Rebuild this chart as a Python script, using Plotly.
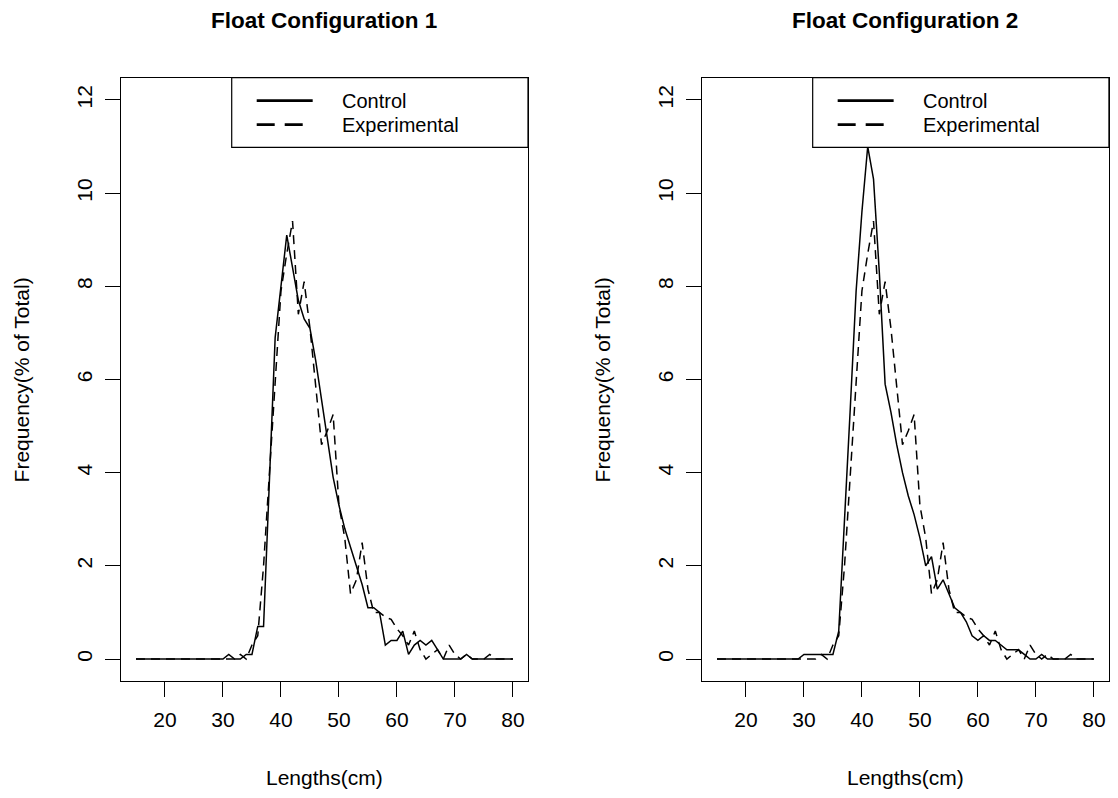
import plotly.graph_objects as go

lengths = list(range(15, 81))

# Float configuration 1 - control (solid)
control_1 = [0]*16 + [
    0.1, 0, 0, 0.1, 0.1, 0.7, 0.7, 3.7, 6.9, 8.0,      # 31-40
    9.1, 8.4, 7.7, 7.3, 7.1, 6.4, 5.6, 4.7, 3.9, 3.3,  # 41-50
    2.8, 2.4, 2.0, 1.6, 1.1, 1.1, 1.0, 0.3, 0.4, 0.4,  # 51-60
    0.6, 0.1, 0.3, 0.4, 0.3, 0.4, 0.2, 0, 0, 0,        # 61-70
    0, 0.1, 0, 0, 0, 0, 0, 0, 0, 0                     # 71-80
]

# Float configuration 2 - control (solid)
control_2 = [0]*15 + [
    0.1,                                               # 30
    0.1, 0.1, 0.1, 0.1, 0.1, 0.6, 2.9, 5.4, 7.9, 9.6,  # 31-40
    11.0, 10.3, 8.3, 5.9, 5.3, 4.6, 4.0, 3.5, 3.1, 2.6, # 41-50
    2.0, 2.2, 1.5, 1.7, 1.4, 1.1, 1.0, 0.8, 0.5, 0.4,  # 51-60
    0.5, 0.4, 0.4, 0.3, 0.2, 0.2, 0.2, 0.1, 0, 0,      # 61-70
    0.1, 0, 0, 0, 0, 0, 0, 0, 0, 0                     # 71-80
]

# Experimental (dashed), same in both panels
experimental = [0]*16 + [
    0, 0, 0.1, 0, 0.3, 0.5, 2.0, 4.0, 6.0, 7.9,        # 31-40
    8.7, 9.4, 7.4, 8.1, 7.1, 5.9, 4.6, 4.9, 5.25, 3.3, # 41-50
    2.6, 1.4, 1.7, 2.5, 1.5, 1.0, 1.0, 0.9, 0.85, 0.65, # 51-60
    0.5, 0.3, 0.6, 0.2, 0, 0.1, 0.2, 0, 0.3, 0.1,      # 61-70
    0, 0.1, 0, 0, 0, 0.1, 0, 0, 0, 0                   # 71-80
]

panel_titles = ["Float Configuration 1", "Float Configuration 2"]
legend_labels = ["Control", "Experimental"]
x_ticks = [20, 30, 40, 50, 60, 70, 80]
y_ticks = [0, 2, 4, 6, 8, 10, 12]
x_title = "Lengths(cm)"
y_title = "Frequency(% of Total)"

FONT = "Liberation Sans, Arial, Helvetica, sans-serif"
W, H = 1118, 798
FS = 21

x_domains = [[0.10814, 0.47227], [0.6278, 0.9919]]
y_domain = [0.14612, 0.90276]

fig = go.Figure()
controls = [control_1, control_2]
for i in range(2):
    xa = "x" if i == 0 else "x2"
    ya = "y" if i == 0 else "y2"
    fig.add_trace(go.Scatter(x=lengths, y=controls[i], mode="lines",
                             line=dict(color="black", width=1.5),
                             name=legend_labels[0], xaxis=xa, yaxis=ya,
                             showlegend=False))
    fig.add_trace(go.Scatter(x=lengths, y=experimental, mode="lines",
                             line=dict(color="black", width=1.5, dash="9px,6px"),
                             name=legend_labels[1], xaxis=xa, yaxis=ya,
                             showlegend=False))

axis_common = dict(showline=True, mirror=True, linecolor="black", linewidth=1.2,
                   ticks="outside", ticklen=15, tickwidth=1.2, tickcolor="black",
                   showgrid=False, zeroline=False,
                   tickfont=dict(family=FONT, size=FS, color="black"))

layout = dict(width=W, height=H, margin=dict(l=0, r=0, t=0, b=0),
              paper_bgcolor="white", plot_bgcolor="white", showlegend=False)

for i in range(2):
    xk = "xaxis" if i == 0 else "xaxis2"
    yk = "yaxis" if i == 0 else "yaxis2"
    layout[xk] = dict(domain=x_domains[i], range=[12.4, 82.6], tickvals=x_ticks,
                      anchor="y" if i == 0 else "y2", ticklabelstandoff=4, **axis_common)
    layout[yk] = dict(domain=y_domain, range=[-0.48, 12.48], tickvals=y_ticks,
                      anchor="x" if i == 0 else "x2", tickangle=-90,
                      ticklabelstandoff=4, **axis_common)

fig.update_layout(**layout)

# legend row positions (fraction of the plot domain height)
row_y = [0.9620, 0.9222]

annotations = []
shapes = []
for i in range(2):
    x0, x1 = x_domains[i]
    xc = (x0 + x1) / 2
    annotations.append(dict(text="<b>" + panel_titles[i] + "</b>", x=xc, y=1 - 20 / H,
                            xref="paper", yref="paper", showarrow=False,
                            xanchor="center", yanchor="middle",
                            font=dict(family=FONT, size=22.5, color="black")))
    annotations.append(dict(text=x_title, x=xc, y=1 - 777 / H, xref="paper", yref="paper",
                            showarrow=False, xanchor="center", yanchor="middle",
                            font=dict(family=FONT, size=FS, color="black")))
    annotations.append(dict(text=y_title, x=x0 - (121 - 22) / W, y=(y_domain[0] + y_domain[1]) / 2,
                            xref="paper", yref="paper", showarrow=False, textangle=-90,
                            xanchor="center", yanchor="middle",
                            font=dict(family=FONT, size=FS, color="black")))
    xd = "x domain" if i == 0 else "x2 domain"
    yd = "y domain" if i == 0 else "y2 domain"
    # legend box
    shapes.append(dict(type="rect", xref=xd, yref=yd, x0=0.2722, x1=1.0, y0=0.8846, y1=1.0,
                       line=dict(color="black", width=1.2), fillcolor="white", layer="above"))
    shapes.append(dict(type="line", xref=xd, yref=yd, x0=0.3336, x1=0.4711, y0=row_y[0], y1=row_y[0],
                       line=dict(color="black", width=2.8)))
    shapes.append(dict(type="line", xref=xd, yref=yd, x0=0.3336, x1=0.4711, y0=row_y[1], y1=row_y[1],
                       line=dict(color="black", width=2.8, dash="18px,10px")))
    for lbl, yy in zip(legend_labels, row_y):
        annotations.append(dict(text=lbl, x=0.5381, y=yy, xref=xd, yref=yd, showarrow=False,
                                xanchor="left", yanchor="middle",
                                font=dict(family=FONT, size=20, color="black")))

fig.update_layout(annotations=annotations, shapes=shapes)
fig.write_html("out.html", config={"displayModeBar": False},
               post_script="document.body.style.margin='0px';")
